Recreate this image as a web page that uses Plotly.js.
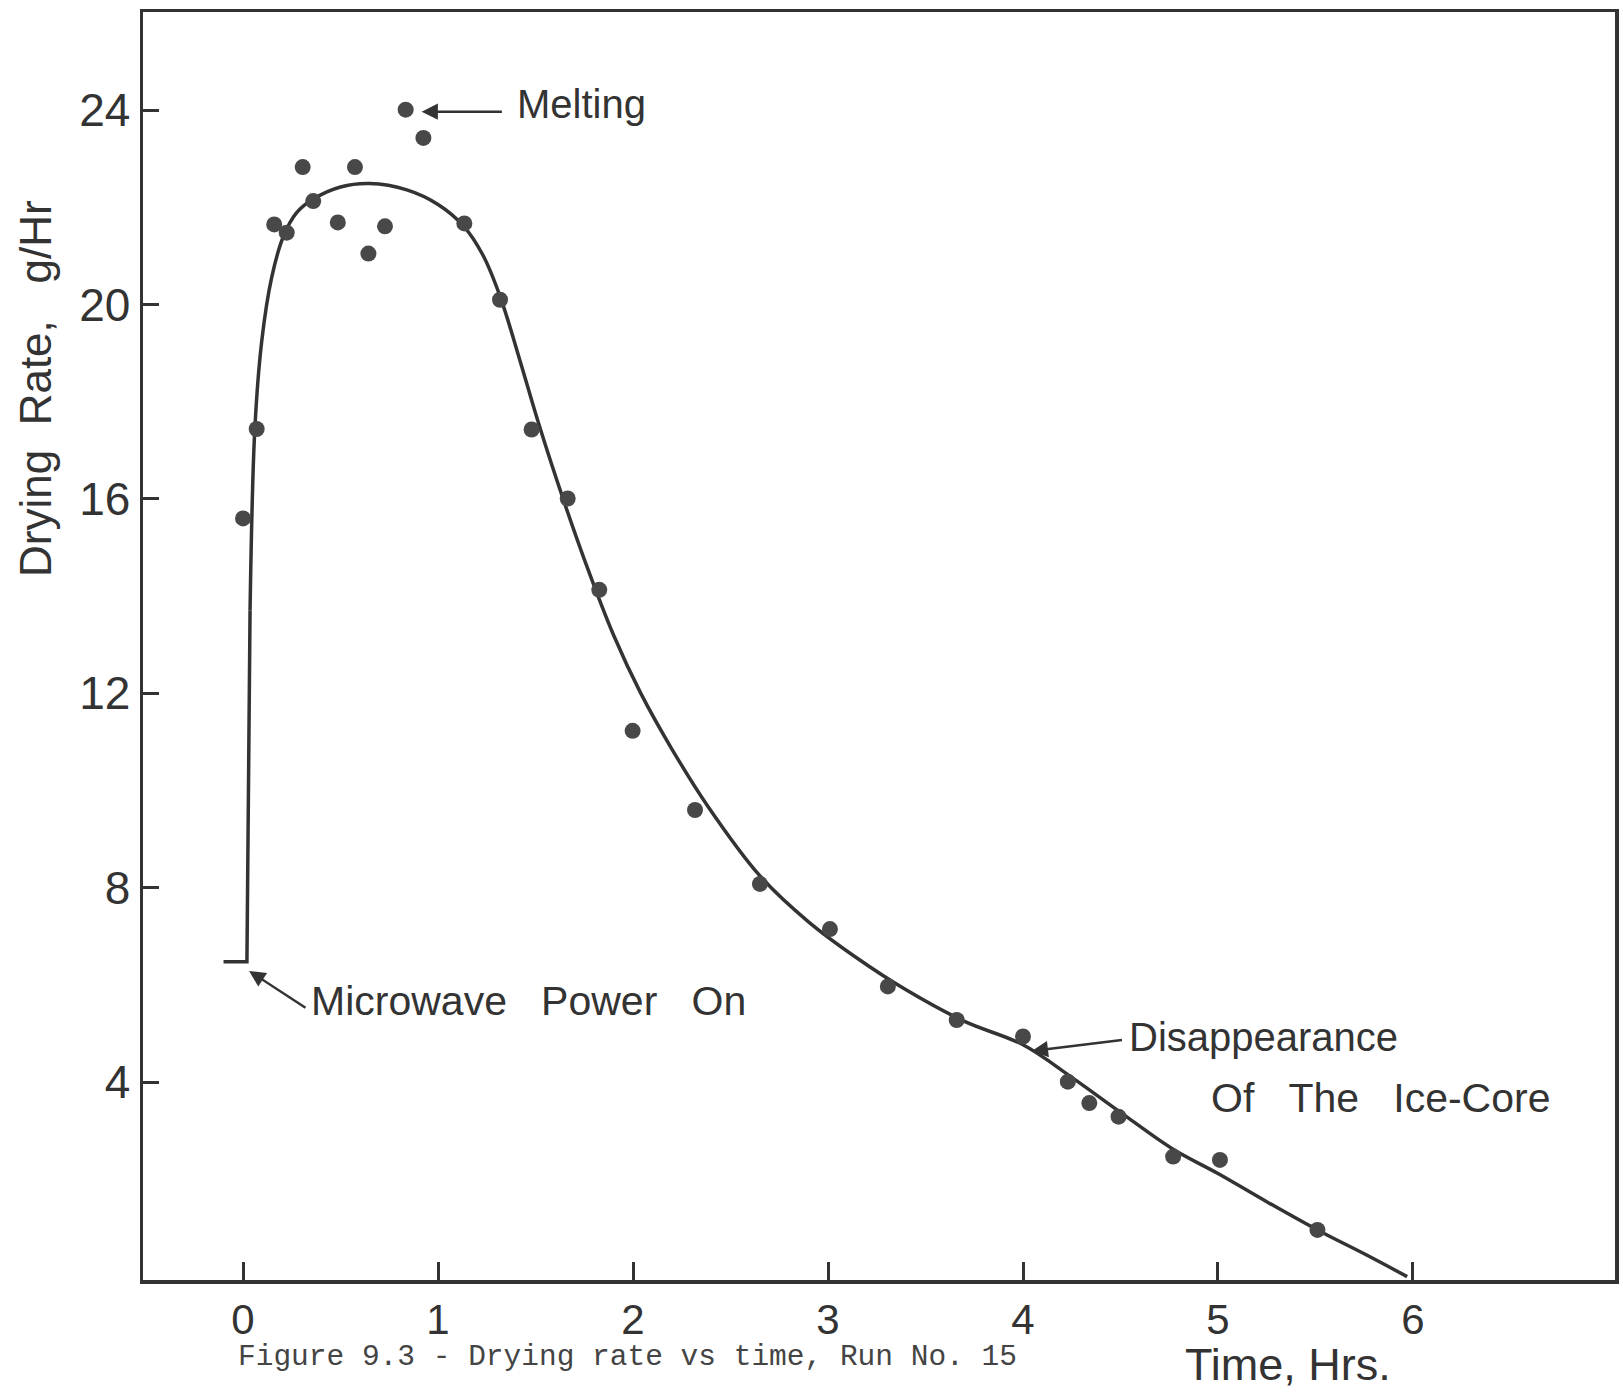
<!DOCTYPE html>
<html>
<head>
<meta charset="utf-8">
<script src="https://cdn.plot.ly/plotly-3.0.1.min.js"></script>
<style>html,body{margin:0;padding:0;background:#fff;}#chart{width:1623px;height:1392px;}</style>
</head>
<body>
<div id="chart"></div>
<script>
// Measured drying-rate points (time in hours, rate in g/Hr)
var timeHrs = [0.0, 0.07, 0.16, 0.224, 0.306, 0.36, 0.486, 0.574, 0.643, 0.728, 0.834, 0.925, 1.135, 1.318, 1.48, 1.665, 1.827, 1.998, 2.318, 2.651, 3.01, 3.307, 3.66, 4.0, 4.23, 4.34, 4.49, 4.77, 5.01, 5.51];
var rateGHr = [15.60, 17.44, 21.65, 21.48, 22.83, 22.13, 21.69, 22.83, 21.05, 21.61, 24.01, 23.43, 21.67, 20.10, 17.43, 16.01, 14.13, 11.23, 9.60, 8.08, 7.15, 5.97, 5.28, 4.94, 4.01, 3.57, 3.29, 2.47, 2.40, 0.96];

// Hand-drawn curve: the step when microwave power is switched on
var stepX = [-0.10, 0.02, 0.036];
var stepY = [6.48, 6.48, 13.7];

// Hand-drawn smooth curve through the data
var curveX = [0.036, 0.06, 0.096, 0.147, 0.207, 0.275, 0.36, 0.50, 0.65, 0.84, 1.00, 1.13, 1.23, 1.32, 1.42, 1.52, 1.64, 1.76, 1.90, 2.04, 2.20, 2.38, 2.65, 2.90, 3.15, 3.40, 3.70, 4.00, 4.25, 4.50, 4.77, 5.00, 5.25, 5.51, 5.75, 5.97];
var curveY = [13.7, 17.4, 19.25, 20.56, 21.40, 21.89, 22.17, 22.42, 22.49, 22.36, 22.06, 21.62, 21.02, 20.15, 18.85, 17.50, 16.02, 14.65, 13.20, 12.00, 10.85, 9.70, 8.25, 7.30, 6.55, 5.90, 5.25, 4.77, 4.10, 3.38, 2.62, 2.12, 1.54, 0.96, 0.47, 0.0];

var xTicks = [0, 1, 2, 3, 4, 5, 6];
var yTicks = [4, 8, 12, 16, 20, 24];

var ink = '#333333';
var sans = 'Liberation Sans, Arial, sans-serif';
var NB = '\u00a0';
var NB3 = NB + NB + NB;

var traces = [
  {x: stepX, y: stepY, mode: 'lines', line: {color: ink, width: 3.5, shape: 'linear'}, hoverinfo: 'skip', showlegend: false},
  {x: curveX, y: curveY, mode: 'lines', line: {color: ink, width: 3.5, shape: 'spline', smoothing: 1}, hoverinfo: 'skip', showlegend: false},
  {x: timeHrs, y: rateGHr, mode: 'markers', marker: {color: '#484848', size: 16, line: {width: 0}}, showlegend: false}
];

var layout = {
  width: 1623, height: 1392,
  margin: {l: 143, r: 8, t: 12, b: 112, pad: 0},
  paper_bgcolor: '#ffffff', plot_bgcolor: '#ffffff',
  showlegend: false,
  xaxis: {
    range: [-0.513, 7.036], tickvals: xTicks, ticktext: xTicks.map(String),
    ticks: 'inside', ticklen: 18, tickwidth: 3, tickcolor: ink,
    showline: true, linecolor: ink, linewidth: 3.5, mirror: true,
    showgrid: false, zeroline: false, ticklabelstandoff: 0,
    tickfont: {family: sans, size: 42, color: ink}
  },
  yaxis: {
    range: [-0.07, 26.02], tickvals: yTicks, ticktext: yTicks.map(String),
    ticks: 'inside', ticklen: 16, tickwidth: 3, tickcolor: ink,
    showline: true, linecolor: ink, linewidth: 3.5, mirror: true,
    showgrid: false, zeroline: false, ticklabelstandoff: 0,
    tickfont: {family: sans, size: 46, color: ink}
  },
  annotations: [
    {x: 1.395, y: 24.12, xref: 'x', yref: 'y', text: 'Melting', showarrow: false, xanchor: 'left', yanchor: 'middle', font: {family: sans, size: 40, color: ink}},
    {x: 0.916, y: 23.97, ax: 1.335, ay: 23.97, axref: 'x', ayref: 'y', xref: 'x', yref: 'y', text: '', showarrow: true, arrowhead: 2, arrowsize: 1.3, arrowwidth: 2.5, arrowcolor: ink},
    {x: 0.338, y: 5.67, xref: 'x', yref: 'y', text: 'Microwave' + NB3 + 'Power' + NB3 + 'On', showarrow: false, xanchor: 'left', yanchor: 'middle', font: {family: sans, size: 41, color: ink}},
    {x: 0.031, y: 6.29, ax: 0.328, ay: 5.51, axref: 'x', ayref: 'y', xref: 'x', yref: 'y', text: '', showarrow: true, arrowhead: 2, arrowsize: 1.3, arrowwidth: 2.5, arrowcolor: ink},
    {x: 4.535, y: 4.93, xref: 'x', yref: 'y', text: 'Disappearance', showarrow: false, xanchor: 'left', yanchor: 'middle', font: {family: sans, size: 40, color: ink}},
    {x: 4.045, y: 4.64, ax: 4.515, ay: 4.87, axref: 'x', ayref: 'y', xref: 'x', yref: 'y', text: '', showarrow: true, arrowhead: 2, arrowsize: 1.3, arrowwidth: 2.5, arrowcolor: ink},
    {x: 4.953, y: 3.68, xref: 'x', yref: 'y', text: 'Of' + NB3 + 'The' + NB3 + 'Ice-Core', showarrow: false, xanchor: 'left', yanchor: 'middle', font: {family: sans, size: 41, color: ink}},
    {x: -0.0727, y: 0.7035, xref: 'paper', yref: 'paper', text: 'Drying' + NB + NB + 'Rate,' + NB3 + 'g/Hr', textangle: -90, showarrow: false, xanchor: 'center', yanchor: 'middle', font: {family: sans, size: 44, color: ink}},
    {x: 0.7065, y: -0.067, xref: 'paper', yref: 'paper', text: 'Time,' + NB + 'Hrs.', showarrow: false, xanchor: 'left', yanchor: 'middle', font: {family: sans, size: 45, color: ink}},
    {x: 0.0632, y: -0.0605, xref: 'paper', yref: 'paper', text: 'Figure 9.3 - Drying rate vs time, Run No. 15', showarrow: false, xanchor: 'left', yanchor: 'middle', font: {family: 'Liberation Mono, DejaVu Sans Mono, Courier New, monospace', size: 29.5, color: '#444444'}}
  ]
};

Plotly.newPlot('chart', traces, layout, {displayModeBar: false, staticPlot: true});
</script>
</body>
</html>
